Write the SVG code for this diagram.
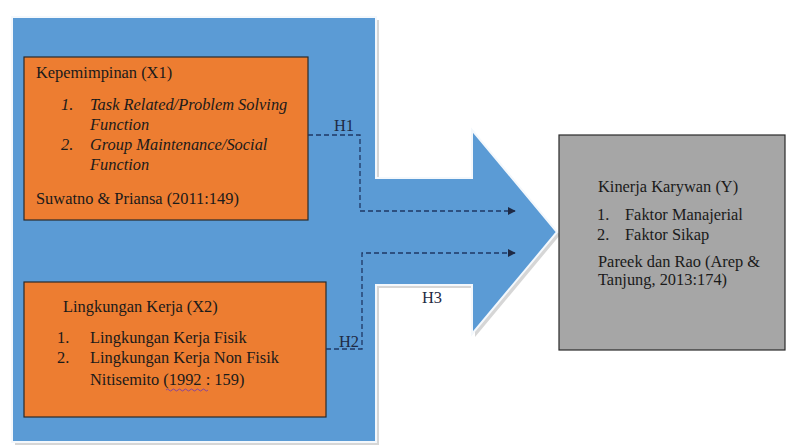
<svg xmlns="http://www.w3.org/2000/svg" width="787" height="446" viewBox="0 0 787 446">
<defs>
<style>
text{font-family:'Liberation Serif','Times New Roman','DejaVu Serif',serif;font-size:16.4px}
.t{fill:#1a1a1a}
.i{font-style:italic}
.box{stroke:#2a2a2a;stroke-width:1.2}
.c{fill:none;stroke:#1f3864;stroke-width:1.3;stroke-dasharray:5 3}
.lbl{fill:#1f2a44}
</style>
<marker id="ah" viewBox="0 0 10 10" refX="9" refY="5" markerWidth="8" markerHeight="8" markerUnits="userSpaceOnUse" orient="auto">
<path d="M0,0 L10,5 L0,10 Z" fill="#1f2a44"/>
</marker>
</defs>
<rect width="787" height="446" fill="#ffffff"/>
<g id="flow-arrow">
<path d="M12,17 H376 V178 H472 V130 L557,232 L472,334 V285 H376 V442 H12 Z" transform="translate(3,3)" fill="#c4c4c4" opacity="0.7"/>
<path d="M12,17 H376 V178 H472 V130 L557,232 L472,334 V285 H376 V442 H12 Z" fill="#5b9bd5" stroke="#f4f8fc" stroke-width="2"/>
</g>
<g id="x1" font-family="Liberation Serif, serif">
<rect class="box" x="24" y="57" width="284" height="163" fill="#ed7d31"/>
<text class="t" x="36" y="78">Kepemimpinan (X1)</text>
<text class="t i" x="61" y="110">1.</text>
<text class="t i" x="90" y="110">Task Related/Problem Solving</text>
<text class="t i" x="90" y="130">Function</text>
<text class="t i" x="61" y="150">2.</text>
<text class="t i" x="90" y="150">Group Maintenance/Social</text>
<text class="t i" x="90" y="170">Function</text>
<text class="t" x="36" y="204">Suwatno &amp; Priansa (2011:149)</text>
</g>
<g id="x2">
<rect class="box" x="24" y="282" width="302" height="135" fill="#ed7d31"/>
<text class="t" x="63" y="312">Lingkungan Kerja (X2)</text>
<text class="t" x="57" y="343">1.</text>
<text class="t" x="90" y="343">Lingkungan Kerja Fisik</text>
<text class="t" x="57" y="363">2.</text>
<text class="t" x="90" y="363">Lingkungan Kerja Non Fisik</text>
<text class="t" x="90" y="385">Nitisemito (1992 : 159)</text>
<path d="M166,390 q1.5,-2 3,0 t3,0 t3,0 t3,0 t3,0 t3,0 t3,0 t3,0 t3,0 t3,0 t3,0 t3,0 t3,0 t3,0" fill="none" stroke="#7a3fa8" stroke-width="0.9"/>
</g>
<g id="y">
<rect class="box" x="559" y="135" width="226" height="215" fill="#a6a6a6"/>
<text class="t" x="598" y="192">Kinerja Karywan (Y)</text>
<text class="t" x="597" y="220">1.</text>
<text class="t" x="625" y="220">Faktor Manajerial</text>
<text class="t" x="597" y="240">2.</text>
<text class="t" x="625" y="240">Faktor Sikap</text>
<text class="t" x="598" y="267">Pareek dan Rao (Arep &amp;</text>
<text class="t" x="598" y="285">Tanjung, 2013:174)</text>
</g>
<g id="connectors">
<path class="c" d="M308,135 H360 V211 H515" marker-end="url(#ah)"/>
<path class="c" d="M326,349 H362 V253 H515" marker-end="url(#ah)"/>
<text class="lbl" x="334" y="131">H1</text>
<text class="lbl" x="339" y="347">H2</text>
<text class="lbl" x="422" y="303">H3</text>
</g>
</svg>
